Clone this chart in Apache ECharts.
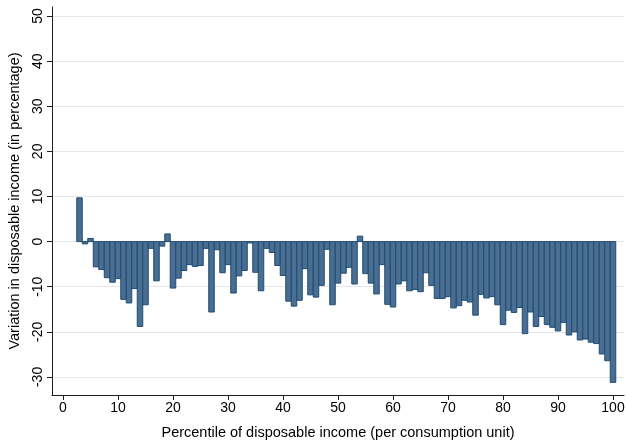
<!DOCTYPE html>
<html>
<head>
<meta charset="utf-8">
<script src="https://cdn.jsdelivr.net/npm/echarts@6/dist/echarts.min.js"></script>
<style>
  html, body { margin: 0; padding: 0; background: #ffffff; }
  #chart { width: 627px; height: 443px; }
</style>
</head>
<body>
<div id="chart"></div>
<script>
// Percentiles of disposable income covered by the bars (first bar is the 3rd percentile)
const firstPercentile = 3;

// Variation in disposable income (%) for percentiles 3..100
const variation = [
  9.7, -0.5, 0.7, -5.6, -6.2, -8.0, -9.0, -8.2, -12.8, -13.6,      // 3-12
  -10.4, -18.8, -14.0, -1.5, -8.7, -1.0, 1.7, -10.3, -8.1, -6.4,   // 13-22
  -5.1, -5.5, -5.3, -1.5, -15.6, -1.8, -6.9, -5.1, -11.4, -7.6,    // 23-32
  -6.4, -0.3, -6.8, -10.9, -1.5, -2.4, -5.3, -7.5, -13.2, -14.3,   // 33-42
  -13.0, -6.0, -11.8, -12.3, -9.7, -1.7, -14.0, -9.2, -7.0, -5.7,  // 43-52
  -9.4, 1.2, -7.1, -9.2, -11.6, -5.1, -13.9, -14.5, -9.4, -8.7,    // 53-62
  -10.9, -10.6, -11.1, -6.9, -9.7, -12.6, -12.6, -12.2, -14.7, -14.2, // 63-72
  -13.0, -13.4, -16.3, -11.7, -12.5, -12.2, -14.0, -18.4, -15.2, -15.7, // 73-82
  -14.6, -20.4, -15.6, -18.8, -16.6, -18.4, -19.0, -19.8, -17.9, -20.7, // 83-92
  -20.0, -21.8, -21.6, -22.3, -22.6, -24.9, -26.4, -31.2            // 93-100
];

// Tick labels
const xTicks = [0, 10, 20, 30, 40, 50, 60, 70, 80, 90, 100];
const yTicks = [-30, -20, -10, 0, 10, 20, 30, 40, 50];

const xTitle = 'Percentile of disposable income (per consumption unit)';
const yTitle = 'Variation in disposable income (in percentage)';

const points = variation.map((v, i) => [firstPercentile + i, v]);

const font = '"Liberation Sans", Arial, sans-serif';
const axisColor = '#1e1e1e';
const barFill = '#4a6e91';
const barEdge = '#1f4b73';

// Each bar spans one percentile: width = one x unit, from 0 up/down to its value
function renderBar(params, api) {
  const x = api.value(0);
  const v = api.value(1);
  const tip = api.coord([x, v]);
  const base = api.coord([x, 0]);
  const w = api.size([1, 0])[0];
  return {
    type: 'rect',
    shape: {
      x: tip[0] - w / 2,
      y: Math.min(tip[1], base[1]),
      width: w,
      height: Math.abs(base[1] - tip[1])
    },
    style: { fill: barFill, stroke: barEdge, lineWidth: 1 }
  };
}

const chart = echarts.init(document.getElementById('chart'), null, { renderer: 'canvas' });

chart.setOption({
  animation: false,
  backgroundColor: '#ffffff',
  grid: { left: 52, right: 3, top: 7, bottom: 48, containLabel: false, outerBoundsMode: 'none' },
  xAxis: {
    type: 'value',
    min: -2,
    max: 102,
    name: xTitle,
    nameLocation: 'middle',
    nameGap: 30,
    nameMoveOverlap: false,
    nameTextStyle: { color: '#000', fontSize: 14.5, fontFamily: font },
    axisLine: { show: true, onZero: false, lineStyle: { color: axisColor, width: 1 } },
    axisTick: { show: true, length: 5, customValues: xTicks, lineStyle: { color: axisColor, width: 1 } },
    axisLabel: { customValues: xTicks, color: '#000', fontSize: 14, fontFamily: font, margin: 6 },
    splitLine: { show: false }
  },
  yAxis: {
    type: 'value',
    min: -34,
    max: 52,
    name: yTitle,
    nameLocation: 'middle',
    nameGap: 30,
    nameMoveOverlap: false,
    nameTextStyle: { color: '#000', fontSize: 14.5, fontFamily: font },
    axisLine: { show: true, onZero: false, lineStyle: { color: axisColor, width: 1 } },
    axisTick: { show: true, length: 5, customValues: yTicks, lineStyle: { color: axisColor, width: 1 } },
    axisLabel: { customValues: yTicks, rotate: 90, color: '#000', fontSize: 14, fontFamily: font, margin: 7 },
    splitLine: { show: true, lineStyle: { color: '#e6e6e6', width: 1 } }
  },
  series: [{
    type: 'custom',
    name: 'Variation',
    data: points,
    encode: { x: 0, y: 1 },
    renderItem: renderBar,
    clip: true
  }]
});
</script>
</body>
</html>
